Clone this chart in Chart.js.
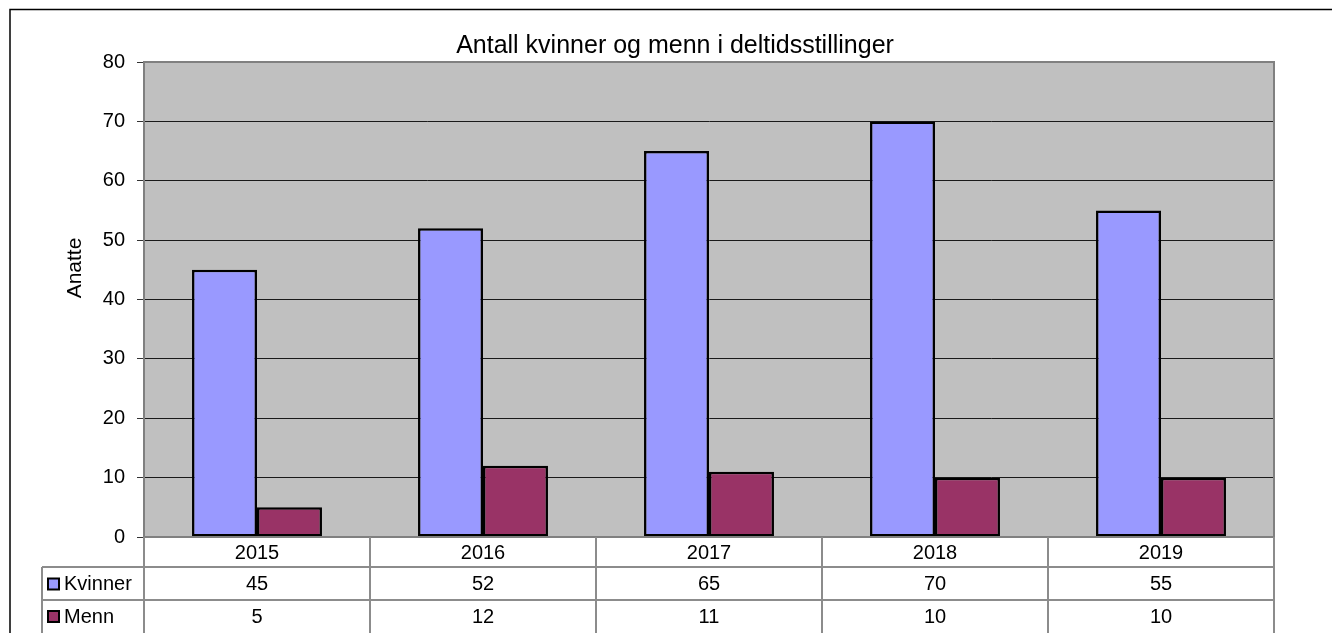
<!DOCTYPE html>
<html>
<head>
<meta charset="utf-8">
<script src="https://cdn.jsdelivr.net/npm/chart.js@4/dist/chart.umd.min.js"></script>
<style>
html,body{margin:0;padding:0;background:#fff;}
#wrap{position:relative;width:1332px;height:633px;}
</style>
</head>
<body>
<div id="wrap"><canvas id="c" width="1332" height="633"></canvas></div>
<script>
const chartTitle = 'Antall kvinner og menn i deltidsstillinger';
const yAxisTitle = 'Anatte';
const categories = ['2015', '2016', '2017', '2018', '2019'];
const kvinner = [45, 52, 65, 70, 55];
const menn = [5, 12, 11, 10, 10];
const seriesNames = ['Kvinner', 'Menn'];
const seriesColors = ['#9999FF', '#993366'];
const yTicks = [0, 10, 20, 30, 40, 50, 60, 70, 80];

const FONT = '"Liberation Sans", Arial, sans-serif';

const framePlugin = {
  id: 'frame',
  beforeDraw(chart) {
    const {ctx, chartArea: a} = chart;
    ctx.save();
    ctx.fillStyle = '#fff';
    ctx.fillRect(0, 0, chart.width, chart.height);
    ctx.fillStyle = '#C0C0C0';
    ctx.fillRect(a.left, a.top, a.right - a.left, a.bottom - a.top);
    // outer frame
    ctx.strokeStyle = '#000';
    ctx.lineWidth = 1.5;
    ctx.beginPath();
    ctx.moveTo(10, chart.height);
    ctx.lineTo(10, 9.5);
    ctx.lineTo(chart.width, 9.5);
    ctx.stroke();
    ctx.restore();
  },
  afterDraw(chart) {
    const {ctx, chartArea: a} = chart;
    const xs = chart.scales.x;
    const n = categories.length;
    const colW = (xs.right - xs.left) / n;
    ctx.save();
    // plot border top / right / bottom
    ctx.strokeStyle = '#808080';
    ctx.lineWidth = 2;
    ctx.beginPath();
    ctx.moveTo(a.left, a.top);
    ctx.lineTo(a.right, a.top);
    ctx.lineTo(a.right, a.bottom);
    ctx.lineTo(a.left, a.bottom);
    ctx.stroke();

    // titles
    ctx.fillStyle = '#000';
    ctx.font = '25px ' + FONT;
    ctx.textAlign = 'center';
    ctx.textBaseline = 'alphabetic';
    ctx.fillText(chartTitle, 675, 53);
    ctx.save();
    ctx.translate(75, 268);
    ctx.rotate(-Math.PI / 2);
    ctx.font = '21px ' + FONT;
    ctx.textBaseline = 'middle';
    ctx.fillText(yAxisTitle, 0, 0);
    ctx.restore();

    // data table
    const top0 = a.bottom;
    const top1 = top0 + 30;
    const top2 = top1 + 33;
    const top3 = top2 + 34;
    const legLeft = 42;
    ctx.strokeStyle = '#8c8c8c';
    ctx.lineWidth = 2;
    ctx.beginPath();
    for (let i = 0; i <= n; i++) {
      const x = xs.left + i * colW;
      ctx.moveTo(x, top0);
      ctx.lineTo(x, top3);
    }
    ctx.moveTo(legLeft, top1); ctx.lineTo(legLeft, top3);
    ctx.moveTo(legLeft, top1); ctx.lineTo(xs.right, top1);
    ctx.moveTo(legLeft, top2); ctx.lineTo(xs.right, top2);
    ctx.stroke();

    ctx.fillStyle = '#000';
    ctx.font = '20px ' + FONT;
    ctx.textAlign = 'center';
    ctx.textBaseline = 'middle';
    const rows = [kvinner, menn];
    const rowMid = [(top1 + top2) / 2 + 1, top2 + 17];
    categories.forEach((c, i) => {
      const cx = xs.getPixelForValue(i);
      ctx.fillText(c, cx, (top0 + top1) / 2 + 1);
      rows.forEach((r, j) => ctx.fillText(String(r[i]), cx, rowMid[j]));
    });
    // legend keys
    seriesNames.forEach((name, j) => {
      const y = rowMid[j];
      ctx.fillStyle = seriesColors[j];
      ctx.fillRect(48, y - 6, 11, 11);
      ctx.strokeStyle = '#000';
      ctx.lineWidth = 2;
      ctx.strokeRect(48, y - 6, 11, 11);
      ctx.fillStyle = '#000';
      ctx.textAlign = 'left';
      ctx.fillText(name, 64, y);
    });
    ctx.restore();
  }
};

new Chart(document.getElementById('c'), {
  type: 'bar',
  data: {
    labels: categories,
    datasets: [
      {label: seriesNames[0], data: kvinner, backgroundColor: seriesColors[0], borderColor: '#000', borderWidth: 2.5, borderSkipped: false},
      {label: seriesNames[1], data: menn, backgroundColor: seriesColors[1], borderColor: '#000', borderWidth: 2.5, borderSkipped: false}
    ]
  },
  options: {
    responsive: false,
    animation: false,
    devicePixelRatio: 1,
    layout: {padding: {top: 62, right: 58, bottom: 96, left: 0}},
    datasets: {bar: {barPercentage: 1, categoryPercentage: 0.575}},
    plugins: {legend: {display: false}, title: {display: false}, tooltip: {enabled: false}},
    scales: {
      x: {display: false},
      y: {
        min: 0, max: 80,
        afterFit(s) { s.width = 144; },
        afterBuildTicks(s) { s.ticks = yTicks.map(v => ({value: v})); },
        ticks: {color: '#000', font: {family: FONT, size: 20}, padding: 12},
        grid: {
          color: c => (c.tick && (c.tick.value === 0 || c.tick.value === 80)) ? '#808080' : '#1a1a1a',
          lineWidth: 1,
          tickLength: 7,
          tickColor: '#333',
          drawTicks: true
        },
        border: {display: true, color: '#808080', width: 2}
      }
    }
  },
  plugins: [framePlugin]
});
</script>
</body>
</html>
